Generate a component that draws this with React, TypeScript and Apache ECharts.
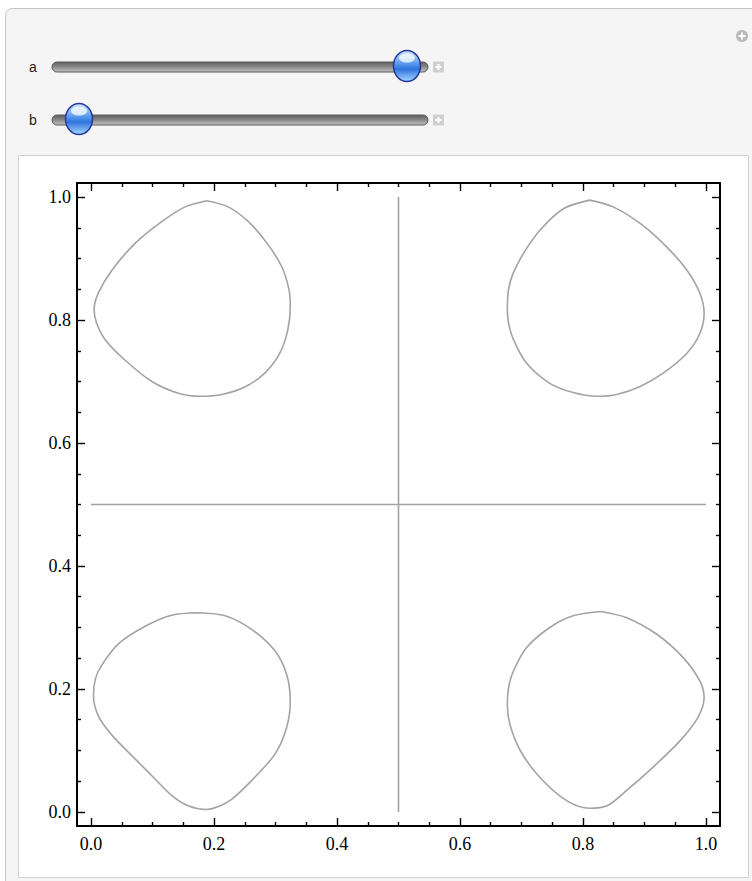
import React, { useEffect, useRef } from "react";
import * as echarts from "echarts";

// ---- Data ----
const majorTicks = [0, 0.2, 0.4, 0.6, 0.8, 1.0];
const minorTicks = [0.05, 0.1, 0.15, 0.25, 0.3, 0.35, 0.45, 0.5, 0.55, 0.65, 0.7, 0.75, 0.85, 0.9, 0.95];
const tickLabels = ["0.0", "0.2", "0.4", "0.6", "0.8", "1.0"];
const AXIS_MIN = -0.0228;
const AXIS_MAX = 1.0228;

const curveTopLeft: [number, number][] = [
  [0.188, 0.994], [0.223, 0.984], [0.256, 0.96], [0.286, 0.925], [0.31, 0.887],
  [0.322, 0.849], [0.324, 0.822], [0.32, 0.784], [0.307, 0.746], [0.283, 0.714],
  [0.25, 0.691], [0.213, 0.679], [0.177, 0.676], [0.142, 0.681], [0.099, 0.7],
  [0.055, 0.735], [0.023, 0.768], [0.009, 0.795], [0.005, 0.817], [0.012, 0.844],
  [0.034, 0.881], [0.072, 0.925], [0.115, 0.96], [0.153, 0.984], [0.188, 0.994],
];
const curveTopRight: [number, number][] = [
  [0.811, 0.995], [0.849, 0.984], [0.893, 0.957], [0.936, 0.919], [0.969, 0.881],
  [0.99, 0.844], [0.997, 0.811], [0.99, 0.778], [0.969, 0.746], [0.931, 0.714],
  [0.893, 0.692], [0.855, 0.679], [0.822, 0.676], [0.784, 0.682], [0.746, 0.697],
  [0.708, 0.73], [0.687, 0.768], [0.679, 0.795], [0.677, 0.822], [0.679, 0.85],
  [0.686, 0.875], [0.703, 0.908], [0.73, 0.946], [0.768, 0.981], [0.811, 0.995],
];
const curveBottomLeft: [number, number][] = [
  [0.174, 0.324], [0.218, 0.319], [0.261, 0.297], [0.299, 0.262], [0.318, 0.224],
  [0.324, 0.181], [0.318, 0.137], [0.299, 0.094], [0.261, 0.051], [0.229, 0.021],
  [0.205, 0.008], [0.187, 0.004], [0.158, 0.01], [0.131, 0.027], [0.099, 0.059],
  [0.066, 0.092], [0.034, 0.125], [0.012, 0.156], [0.004, 0.189], [0.007, 0.216],
  [0.017, 0.238], [0.044, 0.273], [0.088, 0.302], [0.131, 0.32], [0.174, 0.324],
];
const curveBottomRight: [number, number][] = [
  [0.828, 0.326], [0.871, 0.316], [0.92, 0.289], [0.963, 0.251], [0.99, 0.213],
  [0.997, 0.186], [0.987, 0.154], [0.958, 0.116], [0.914, 0.073], [0.871, 0.035],
  [0.839, 0.01], [0.811, 0.006], [0.774, 0.018], [0.73, 0.056], [0.698, 0.1],
  [0.681, 0.143], [0.677, 0.175], [0.679, 0.202], [0.686, 0.227], [0.708, 0.267],
  [0.746, 0.3], [0.784, 0.319], [0.828, 0.326],
];
const crossVertical: [number, number][] = [[0.5, 0], [0.5, 1]];
const crossHorizontal: [number, number][] = [[0, 0.5], [1, 0.5]];

const sliderLabels = ["a", "b"];
const sliderValues = [0.977, 0.04];

const CURVE_COLOR = "#a3a3a3";
const SERIF = "'Liberation Serif', 'Times New Roman', serif";
const SANS = "'Liberation Sans', 'DejaVu Sans', Arial, sans-serif";

function makeAxis(dim: "x" | "y", position: string, major: boolean, labels: boolean, line: boolean) {
  return {
    type: "value",
    position,
    min: AXIS_MIN,
    max: AXIS_MAX,
    splitLine: { show: false },
    axisLine: { show: line, onZero: false, lineStyle: { color: "#000", width: 2 } },
    axisTick: {
      show: true,
      inside: true,
      length: major ? 8 : 4,
      customValues: major ? majorTicks : minorTicks,
      lineStyle: { color: "#000", width: 1.4 },
    },
    axisLabel: {
      show: labels,
      customValues: majorTicks,
      formatter: (v: number) => {
        const i = majorTicks.findIndex((m) => Math.abs(m - v) < 1e-6);
        return i >= 0 ? tickLabels[i] : "";
      },
      fontFamily: SERIF,
      fontSize: 18,
      color: "#000",
      margin: dim === "x" ? 9 : 6,
    },
  };
}

export default function App() {
  const ref = useRef<HTMLDivElement>(null);
  useEffect(() => {
    if (!ref.current) return;
    const chart = echarts.init(ref.current, undefined, { renderer: "svg" });

    const trackLeft = 52;
    const trackW = 376;
    const thumbPad = 13;
    const sliderYs = [67, 120];

    const graphics: any[] = [
      {
        type: "rect",
        z: -10,
        shape: { x: 5.5, y: 8.5, width: 780, height: 900, r: 7 },
        style: { fill: "#f5f5f5", stroke: "#c4c4c4", lineWidth: 1 },
      },
      {
        type: "rect",
        z: -9,
        shape: { x: 18.5, y: 155.5, width: 730, height: 722 },
        style: { fill: "#ffffff", stroke: "#d2d2d2", lineWidth: 1 },
      },
      {
        type: "circle",
        shape: { cx: 742, cy: 36, r: 6 },
        style: { fill: "#b8b8b8" },
      },
      { type: "rect", shape: { x: 738.5, y: 35, width: 7, height: 2 }, style: { fill: "#fff" } },
      { type: "rect", shape: { x: 741, y: 32.5, width: 2, height: 7 }, style: { fill: "#fff" } },
    ];

    sliderLabels.forEach((lab, i) => {
      const cy = sliderYs[i];
      graphics.push({
        type: "text",
        x: 33,
        y: cy,
        style: { text: lab, fontFamily: SANS, fontSize: 14, fill: "#222", align: "center", verticalAlign: "middle" },
      });
      graphics.push({
        type: "rect",
        shape: { x: trackLeft, y: cy - 5, width: trackW, height: 10, r: 5 },
        style: {
          fill: {
            type: "linear", x: 0, y: 0, x2: 0, y2: 1,
            colorStops: [
              { offset: 0, color: "#5e5e5e" },
              { offset: 0.5, color: "#8a8a8a" },
              { offset: 1, color: "#c2c2c2" },
            ],
          },
          stroke: "#5a5a5a",
          lineWidth: 1,
        },
      });
      graphics.push({
        type: "rect",
        shape: { x: 433, y: cy - 5.5, width: 11, height: 11 },
        style: { fill: "#cfcfcf" },
      });
      graphics.push({ type: "rect", shape: { x: 435.5, y: cy - 1, width: 6, height: 2 }, style: { fill: "#fff" } });
      graphics.push({ type: "rect", shape: { x: 437.5, y: cy - 3, width: 2, height: 6 }, style: { fill: "#fff" } });

      const tx = trackLeft + thumbPad + sliderValues[i] * (trackW - 2 * thumbPad);
      graphics.push({
        type: "ellipse",
        shape: { cx: tx, cy: cy - 1, rx: 13.5, ry: 15.5 },
        style: {
          fill: {
            type: "linear", x: 0, y: 0, x2: 0, y2: 1,
            colorStops: [
              { offset: 0, color: "#cfe6ff" },
              { offset: 0.4, color: "#5f9ff0" },
              { offset: 0.6, color: "#2f74dd" },
              { offset: 1, color: "#a6d6ff" },
            ],
          },
          stroke: "#27379a",
          lineWidth: 1.5,
        },
      });
      graphics.push({
        type: "ellipse",
        shape: { cx: tx, cy: cy - 9, rx: 8, ry: 4.5 },
        style: { fill: "rgba(255,255,255,0.75)" },
      });
    });

    const curveSeries = [curveTopLeft, curveTopRight, curveBottomLeft, curveBottomRight].map((d) => ({
      type: "line",
      data: d,
      smooth: 0.3,
      showSymbol: false,
      symbol: "none",
      lineStyle: { color: CURVE_COLOR, width: 1.6 },
      xAxisIndex: 0,
      yAxisIndex: 0,
      silent: true,
    }));
    const crossSeries = [crossVertical, crossHorizontal].map((d) => ({
      type: "line",
      data: d,
      showSymbol: false,
      symbol: "none",
      lineStyle: { color: CURVE_COLOR, width: 1.6 },
      xAxisIndex: 0,
      yAxisIndex: 0,
      silent: true,
    }));

    chart.setOption({
      animation: false,
      backgroundColor: "#ffffff",
      graphic: { elements: graphics },
      grid: { left: 77, top: 183, width: 643, height: 643, containLabel: false },
      xAxis: [
        makeAxis("x", "bottom", true, true, true),
        makeAxis("x", "bottom", false, false, false),
        makeAxis("x", "top", true, false, true),
        makeAxis("x", "top", false, false, false),
      ],
      yAxis: [
        makeAxis("y", "left", true, true, true),
        makeAxis("y", "left", false, false, false),
        makeAxis("y", "right", true, false, true),
        makeAxis("y", "right", false, false, false),
      ],
      series: [...curveSeries, ...crossSeries],
    });
    return () => chart.dispose();
  }, []);

  return (
    <div
      ref={ref}
      style={{ position: "absolute", left: 0, top: 0, width: 752, height: 881 }}
    />
  );
}
